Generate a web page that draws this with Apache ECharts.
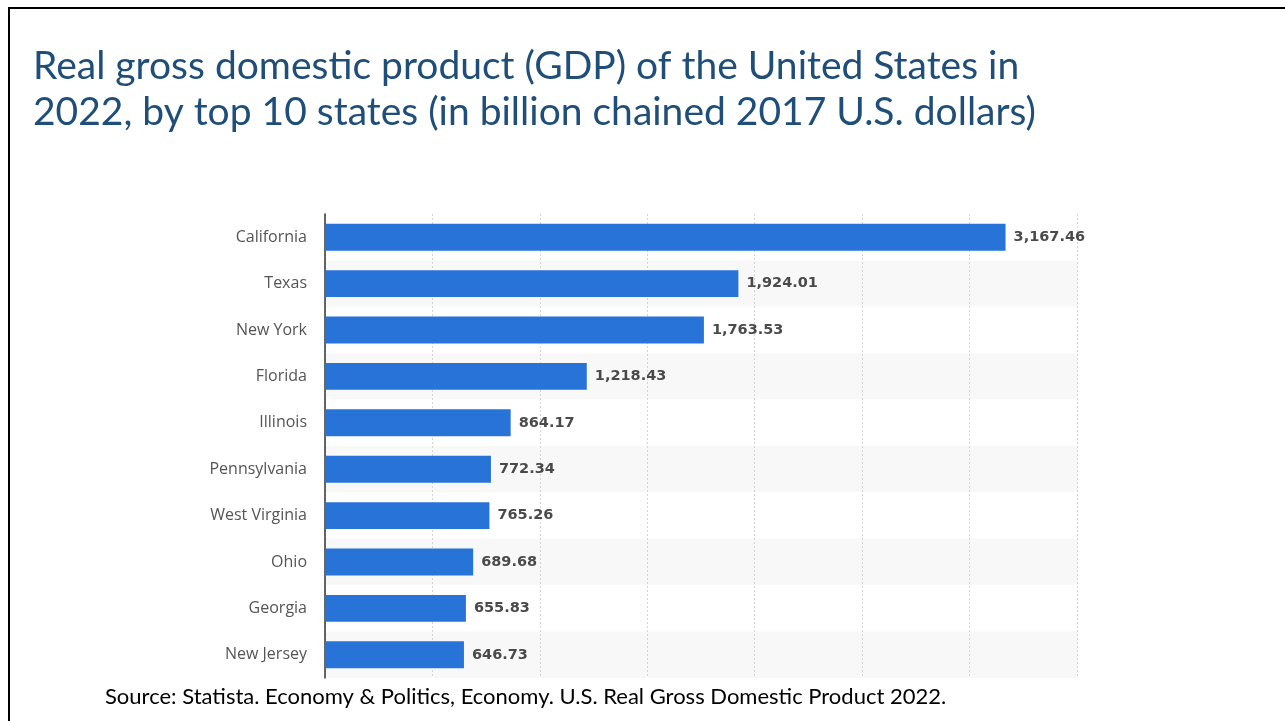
<!DOCTYPE html>
<html>
<head>
<meta charset="utf-8">
<style>
  html, body { margin: 0; padding: 0; background: #ffffff; }
  #chart { width: 1285px; height: 721px; }
</style>
<script src="https://cdn.jsdelivr.net/npm/echarts@6/dist/echarts.min.js"></script>
</head>
<body>
<div id="chart"></div>
<script>
// Top 10 states by real GDP, 2022 (billion chained 2017 U.S. dollars)
const states = ['California', 'Texas', 'New York', 'Florida', 'Illinois',
  'Pennsylvania', 'West Virginia', 'Ohio', 'Georgia', 'New Jersey'];
const gdp = [3167.46, 1924.01, 1763.53, 1218.43, 864.17,
  772.34, 765.26, 689.68, 655.83, 646.73];

const titleLines = [
  'Real gross domestic product (GDP) of the United States in',
  '2022, by top 10 states (in billion chained 2017 U.S. dollars)'
];
const sourceText = 'Source: Statista. Economy & Politics, Economy. U.S. Real Gross Domestic Product 2022.';

const fmt = v => v.toLocaleString('en-US', { minimumFractionDigits: 2, maximumFractionDigits: 2 });

const chart = echarts.init(document.getElementById('chart'), null, { renderer: 'canvas' });

chart.setOption({
  backgroundColor: '#ffffff',
  animation: false,
  title: {
    text: titleLines.join('\n'),
    left: 28,
    top: 38,
    textStyle: {
      fontFamily: 'Lato',
      fontWeight: 'normal',
      fontSize: 39,
      lineHeight: 46,
      color: '#1f4e79'
    }
  },
  grid: { left: 325, right: 208, top: 214, bottom: 43, containLabel: false },
  xAxis: {
    type: 'value',
    min: 0,
    max: 3500,
    interval: 500,
    axisLine: { show: false },
    axisTick: { show: false },
    axisLabel: { show: false },
    splitLine: { show: true, lineStyle: { color: '#d4d4d4', type: [2, 2], width: 1 } }
  },
  yAxis: {
    type: 'category',
    data: states,
    inverse: true,
    axisLine: { show: true, lineStyle: { color: '#333333', width: 1.5 } },
    axisTick: { show: false },
    axisLabel: {
      margin: 18,
      fontFamily: 'Open Sans',
      fontSize: 16,
      color: '#555555'
    },
    splitArea: { show: true, areaStyle: { color: ['#ffffff', '#f8f8f8'] } }
  },
  series: [{
    type: 'bar',
    data: gdp,
    barWidth: '58%',
    itemStyle: { color: '#2873d8' },
    label: {
      show: true,
      position: 'right',
      distance: 8,
      formatter: p => fmt(p.value),
      fontFamily: 'DejaVu Sans',
      fontWeight: 'bold',
      fontSize: 14.5,
      color: '#4a4a4a'
    }
  }],
  graphic: [
    { type: 'rect', shape: { x: 8, y: 7, width: 1285, height: 2 }, style: { fill: '#000000' } },
    { type: 'rect', shape: { x: 8, y: 7, width: 2, height: 730 }, style: { fill: '#000000' } },
    {
      type: 'text',
      left: 105,
      top: 686,
      style: {
        text: sourceText,
        fontFamily: 'Lato',
        fontSize: 22,
        fill: '#000000'
      }
    }
  ]
});
</script>
</body>
</html>
